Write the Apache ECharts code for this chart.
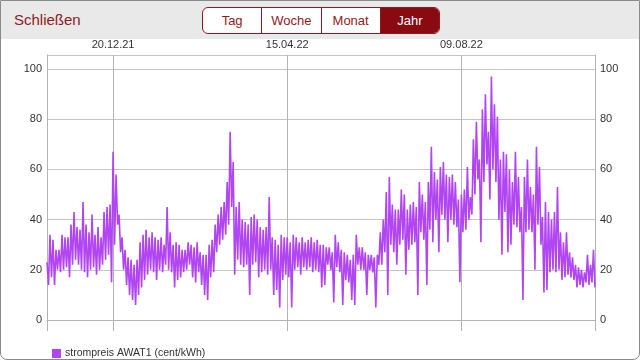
<!DOCTYPE html>
<html>
<head>
<meta charset="utf-8">
<script src="https://cdn.jsdelivr.net/npm/echarts@6/dist/echarts.min.js"></script>
<style>
  html, body { margin: 0; padding: 0; width: 640px; height: 360px; overflow: hidden; background: #fff; font-family: "Liberation Sans", Arial, sans-serif; }
  #frame { position: absolute; left: 0; top: 0; width: 640px; height: 360px; box-sizing: border-box; border: 1px solid #8a8a8a; border-radius: 0 0 7px 7px; overflow: hidden; }
  #header { position: absolute; left: 0; top: 0; width: 640px; height: 38px; background: #e9e9e9; z-index: 2; }
  #close { position: absolute; left: 13px; top: 10px; font-size: 15px; color: #8e1b24; }
  #seg { position: absolute; left: 201px; top: 6px; width: 238px; height: 27px; box-sizing: border-box; border: 1px solid #8e1b24; border-radius: 6px; overflow: hidden; display: flex; background: #fff; }
  #seg div { flex: 1; text-align: center; line-height: 25px; font-size: 13px; color: #8e1b24; border-left: 1px solid #8e1b24; }
  #seg div:first-child { border-left: none; }
  #seg div.on { background: #8a0a12; color: #fff; }
  #chart { position: absolute; left: 0; top: 0; width: 640px; height: 360px; z-index: 1; }
</style>
</head>
<body>
<div id="frame">
  <div id="chart"></div>
  <div id="header">
    <div id="close">Schließen</div>
    <div id="seg"><div>Tag</div><div>Woche</div><div>Monat</div><div class="on">Jahr</div></div>
  </div>
</div>
<script>
// --- data (daily alternating high / low readings) ---
const startDate = '2021-11-06';
const seriesName = 'strompreis AWAT1 (cent/kWh)';
const tickLabels = ['20.12.21', '15.04.22', '09.08.22'];
const peaks = [
  23,34,32,28,28,34,33,33,38,43,
  37,36,47,38,35,42,34,37,33,43,
  45,46,67,58,42,33,28,25,24,22,
  24,31,34,36,33,35,33,32,33,30,
  45,35,30,31,30,28,28,31,30,29,
  31,27,26,26,30,32,38,42,45,47,
  55,75,63,45,47,40,39,38,41,42,
  40,37,36,37,49,33,32,30,34,33,
  33,31,34,33,31,33,31,32,33,31,
  32,30,30,29,29,27,34,31,28,27,
  26,24,26,34,29,29,27,26,26,25,
  26,35,40,51,57,46,44,44,52,50,
  44,46,47,45,55,50,47,55,69,59,
  56,61,63,58,57,58,55,48,50,52,
  61,49,72,79,64,84,90,75,97,86,
  81,64,67,66,60,55,67,57,45,57,
  64,53,50,69,61,41,47,43,40,43,
  53,35,31,35,27,25,22,21,20,19,
  26,22,28
];
const troughs = [
  14,17,14,20,19,20,21,17,22,24,
  22,20,19,17,20,21,18,20,22,24,
  26,15,30,38,27,20,14,10,8,6,
  10,13,16,18,20,19,16,20,19,22,
  20,19,13,16,17,19,20,22,17,15,
  19,14,10,8,17,19,27,30,32,34,
  38,45,18,24,22,21,22,10,22,23,
  17,19,20,18,20,10,12,5,16,18,
  17,5,20,21,18,21,20,21,19,20,
  19,13,14,22,20,7,21,19,6,16,
  15,8,6,22,20,20,10,20,19,5,
  22,22,27,10,30,27,22,30,32,18,
  28,30,31,10,35,32,14,36,31,40,
  27,42,40,31,40,38,37,15,35,36,
  40,42,50,56,31,55,62,48,60,55,
  40,26,43,27,30,38,37,35,8,35,
  36,35,20,38,30,11,12,19,20,19,
  20,16,17,18,17,16,13,14,13,15,
  14,15,13
];

// --- build categories and series ---
const values = [];
for (let k = 0; k < peaks.length; k++) { values.push(peaks[k], troughs[k]); }
const categories = [];
const d0 = new Date(startDate + 'T00:00:00Z');
for (let i = 0; i < values.length; i++) {
  const d = new Date(d0.getTime() + i * 86400000);
  const dd = String(d.getUTCDate()).padStart(2, '0');
  const mm = String(d.getUTCMonth() + 1).padStart(2, '0');
  const yy = String(d.getUTCFullYear()).slice(2);
  categories.push(dd + '.' + mm + '.' + yy);
}
const labelIdx = tickLabels.map(t => categories.indexOf(t));
const edgeIdx = [0, categories.length - 1].concat(labelIdx);

const purple = '#b145f2';
const gridGray = '#c4c4c4';
const axisGray = '#b4b4b4';
const font = '"Liberation Sans", Arial, sans-serif';

const chart = echarts.init(document.getElementById('chart'), null, { renderer: 'canvas' });
chart.setOption({
  animation: false,
  color: [purple],
  textStyle: { fontFamily: font },
  grid: { left: 46, right: 46, top: 54, bottom: 41, containLabel: false },
  legend: {
    left: 46, top: 342, icon: 'rect', itemWidth: 9, itemHeight: 9, itemGap: 10,
    textStyle: { fontSize: 10.5, color: '#333', fontFamily: font, padding: [0, 0, 0, -1] },
    data: [seriesName]
  },
  xAxis: [
    {
      type: 'category', data: categories, boundaryGap: false, position: 'top',
      axisLine: { show: true, lineStyle: { color: axisGray } },
      axisTick: { show: false },
      axisLabel: { interval: (i) => labelIdx.includes(i), color: '#333', fontSize: 11, margin: 5, fontFamily: font },
      splitLine: { show: true, interval: (i) => labelIdx.includes(i), lineStyle: { color: axisGray, width: 1 } }
    },
    {
      type: 'category', data: categories, boundaryGap: false, position: 'bottom',
      axisLine: { show: false },
      axisTick: { show: true, inside: false, length: 11, interval: (i) => edgeIdx.includes(i), lineStyle: { color: axisGray } },
      axisLabel: { show: false },
      splitLine: { show: false }
    }
  ],
  yAxis: [
    {
      type: 'value', min: 0, max: 105.6, interval: 20, position: 'left',
      axisLine: { show: true, lineStyle: { color: axisGray } },
      axisTick: { show: false },
      axisLabel: { color: '#333', fontSize: 11, margin: 5, fontFamily: font, formatter: (v) => (v % 20 === 0 ? String(v) : '') },
      splitLine: { show: true, lineStyle: { color: gridGray, width: 1 } }
    },
    {
      type: 'value', min: 0, max: 105.6, interval: 20, position: 'right',
      axisLine: { show: true, lineStyle: { color: axisGray } },
      axisTick: { show: false },
      axisLabel: { color: '#333', fontSize: 11, margin: 5, fontFamily: font, formatter: (v) => (v % 20 === 0 ? String(v) : '') },
      splitLine: { show: false }
    }
  ],
  series: [
    {
      name: seriesName, type: 'line', xAxisIndex: 0, yAxisIndex: 0,
      data: values, showSymbol: false, symbol: 'none', sampling: null,
      lineStyle: { width: 1.6, color: purple, join: 'bevel' }, itemStyle: { color: purple }
    }
  ]
});
</script>
</body>
</html>
